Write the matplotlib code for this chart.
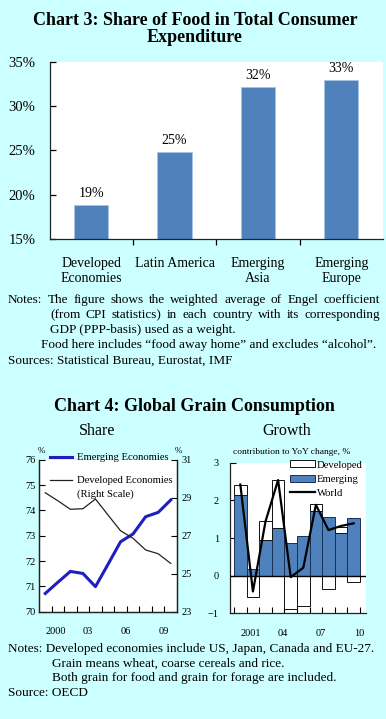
import matplotlib
matplotlib.use('Agg')
import matplotlib.pyplot as plt
from matplotlib.lines import Line2D
from matplotlib.patches import Rectangle

plt.rcParams['font.family'] = ['Liberation Serif', 'DejaVu Serif']

W, H = 386, 719
BG = '#ccffff'
BAR_BLUE = '#4f81bd'
LINE_BLUE = '#1f1fbf'

# Chart 3: share of food in consumer expenditure (%)
food_regions = ['Developed\nEconomies', 'Latin America', 'Emerging\nAsia', 'Emerging\nEurope']
food_share = [18.8, 24.8, 32.2, 32.9]

# Chart 4 left: share of global grain consumption (%)
share_years = list(range(2000, 2011))
emerging_share = [70.72, 71.16, 71.59, 71.51, 70.99, 71.87, 72.76, 73.07, 73.75, 73.92, 74.41]
developed_share = [29.26, 28.84, 28.39, 28.42, 28.93, 28.09, 27.26, 26.86, 26.25, 26.05, 25.54]
share_tick_years = [2000, 2003, 2006, 2009]

# Chart 4 right: contribution to YoY change (%)
growth_years = list(range(2001, 2011))
emerging_contrib = [2.14, 0.17, 0.95, 1.27, 0.86, 1.05, 1.72, 1.56, 1.13, 1.54]
developed_contrib = [0.28, -0.58, 0.49, 1.27, -0.89, -0.81, 0.17, -0.35, 0.15, -0.16]
world_growth = [2.42, -0.42, 1.44, 2.54, -0.04, 0.21, 1.88, 1.21, 1.32, 1.39]
growth_tick_years = [2001, 2004, 2007, 2010]


def fx(x):
    return x / W


def fy(y):
    return 1 - y / H


def box(x0, y0, x1, y1):
    return [fx(x0), fy(y1), (x1 - x0) / W, (y1 - y0) / H]


def year_label(y, first):
    return str(y) if first else f'{y % 100:02d}'


def justify(fig, text, x0, x1, y, size):
    # spread the words of one line over [x0, x1], like a justified paragraph
    words = text.split()
    renderer = fig.canvas.get_renderer()
    items = [fig.text(0, fy(y), w, fontsize=size, va='baseline') for w in words]
    widths = [t.get_window_extent(renderer).width for t in items]
    gap = (x1 - x0 - sum(widths)) / (len(words) - 1)
    x = x0
    for t, w in zip(items, widths):
        t.set_x(fx(x))
        x += w + gap


def style_spines(ax, show):
    for side, sp in ax.spines.items():
        sp.set_visible(side in show)
        sp.set_color('#222222')
        sp.set_linewidth(0.9)


fig = plt.figure(figsize=(W / 100, H / 100), dpi=100, facecolor=BG)

# ---------------- Chart 3 ----------------
fig.text(fx(195), fy(25), 'Chart 3: Share of Food in Total Consumer',
         ha='center', va='baseline', fontsize=13, weight='bold')
fig.text(fx(195), fy(42), 'Expenditure', ha='center', va='baseline', fontsize=13, weight='bold')

ax1 = fig.add_axes(box(49.5, 61.7, 383, 239))
x = range(len(food_regions))
bars = ax1.bar(x, food_share, width=0.41, color=BAR_BLUE, edgecolor='#a9c4e6', linewidth=0.6)
for b, v in zip(bars, food_share):
    ax1.annotate(f'{v:.0f}%', (b.get_x() + b.get_width() / 2, v), xytext=(0, 3.5),
                 textcoords='offset points', ha='center', va='bottom', fontsize=10)
ax1.set_ylim(15, 35)
ax1.set_xlim(-0.5, len(food_regions) - 0.5)
ax1.set_yticks(range(15, 36, 5), [f'{v}%' for v in range(15, 36, 5)], fontsize=10.5)
ax1.set_xticks(list(x), food_regions, fontsize=10)
ax1.set_xticks([0.5, 1.5, 2.5], minor=True)
ax1.tick_params(axis='x', which='major', length=0, pad=13)
ax1.tick_params(axis='x', which='minor', length=4, direction='out', width=0.9)
ax1.tick_params(axis='y', length=4, direction='in', width=0.9, pad=10)
style_spines(ax1, ('left', 'bottom'))

notes1 = 9.5
justify(fig, 'Notes: The figure shows the weighted average of Engel coefficient', 8, 380, 302.5, notes1)
justify(fig, '(from CPI statistics) in each country with its corresponding', 50, 380, 318.3, notes1)
fig.text(fx(50), fy(333.3), 'GDP (PPP-basis) used as a weight.', fontsize=notes1, va='baseline')
fig.text(fx(41), fy(348.3), 'Food here includes \u201cfood away home\u201d and excludes \u201calcohol\u201d.',
         fontsize=notes1, va='baseline')
fig.text(fx(8), fy(363.3), 'Sources: Statistical Bureau, Eurostat, IMF', fontsize=notes1, va='baseline')

# ---------------- Chart 4 ----------------
fig.text(fx(194), fy(411), 'Chart 4: Global Grain Consumption',
         ha='center', va='baseline', fontsize=13, weight='bold')
fig.text(fx(97), fy(435), 'Share', ha='center', va='baseline', fontsize=11.5)
fig.text(fx(287), fy(435), 'Growth', ha='center', va='baseline', fontsize=11.5)

tick_fs = 7.5

# left panel: shares
axL = fig.add_axes(box(39, 459.7, 177, 611.7))
axL.plot(share_years, emerging_share, color=LINE_BLUE, lw=2.2)
axL.set_ylim(70, 76)
axL.set_xlim(share_years[0] - 0.5, share_years[-1] + 0.5)
axL.set_yticks(range(70, 77))
axR = axL.twinx()
axR.plot(share_years, developed_share, color='#222222', lw=0.9)
axR.set_ylim(23, 31)
axR.set_yticks(range(23, 32, 2))
for a in (axL, axR):
    style_spines(a, ('left', 'bottom', 'right'))
axL.set_xticks(share_tick_years, [year_label(y, i == 0) for i, y in enumerate(share_tick_years)])
axL.set_xticks([y + 0.5 for y in share_years[:-1]], minor=True)
for lbl in axL.get_xticklabels():
    lbl.set_ha('left')
axL.tick_params(axis='x', which='major', length=0, pad=11, labelsize=tick_fs)
axL.tick_params(axis='x', which='minor', length=4, direction='in', width=0.8)
axL.tick_params(axis='y', length=4, direction='in', width=0.8, pad=2.5, labelsize=tick_fs)
axR.tick_params(axis='y', length=4, direction='in', width=0.8, pad=3.5, labelsize=tick_fs)

fig.text(fx(41.5), fy(453), '%', ha='center', va='baseline', fontsize=6.5)
fig.text(fx(178.5), fy(453), '%', ha='center', va='baseline', fontsize=6.5)

fig.add_artist(Line2D([fx(50), fx(72)], [fy(456.7)] * 2, color=LINE_BLUE, lw=2.2))
fig.text(fx(76.7), fy(460), 'Emerging Economies', fontsize=7.7, va='baseline')
fig.add_artist(Line2D([fx(50), fx(72)], [fy(480)] * 2, color='#222222', lw=0.9))
fig.text(fx(76.7), fy(483.3), 'Developed Economies', fontsize=7.7, va='baseline')
fig.text(fx(76.7), fy(496.7), '(Right Scale)', fontsize=7.7, va='baseline')

# right panel: growth contributions
axG = fig.add_axes(box(230, 462.7, 365.5, 613.3))
axG.bar(growth_years, emerging_contrib, width=1.0, color=BAR_BLUE,
        edgecolor='#1a2f55', linewidth=0.7, zorder=2)
dev_bottom = [e if d > 0 else 0 for e, d in zip(emerging_contrib, developed_contrib)]
axG.bar(growth_years, developed_contrib, bottom=dev_bottom, width=1.0, color='white',
        edgecolor='#111111', linewidth=0.7, zorder=2)
axG.plot(growth_years, world_growth, color='black', lw=1.6, zorder=4)
axG.axhline(0, color='black', lw=1.0, zorder=3)
axG.set_ylim(-1, 3)
axG.set_xlim(2000.18, 2010.94)
axG.set_yticks(range(-1, 4))
axG.set_xticks(growth_tick_years, [year_label(y, i == 0) for i, y in enumerate(growth_tick_years)])
axG.set_xticks([y - 0.5 for y in growth_years] + [growth_years[-1] + 0.5], minor=True)
for lbl in axG.get_xticklabels():
    lbl.set_ha('left')
axG.tick_params(axis='x', which='major', length=0, pad=11, labelsize=tick_fs)
axG.tick_params(axis='x', which='minor', length=4, direction='in', width=0.8)
axG.tick_params(axis='y', length=4, direction='in', width=0.8, pad=8, labelsize=tick_fs)
style_spines(axG, ('left', 'bottom'))

fig.text(fx(292), fy(454), 'contribution to YoY change, %', ha='center', va='baseline', fontsize=6.8)

fig.add_artist(Rectangle((fx(290), fy(467)), fx(315) - fx(290), fy(460.5) - fy(467),
                         facecolor='white', edgecolor='#111111', lw=0.7))
fig.add_artist(Rectangle((fx(290), fy(482)), fx(315) - fx(290), fy(475.5) - fy(482),
                         facecolor=BAR_BLUE, edgecolor='#1a2f55', lw=0.7))
fig.add_artist(Line2D([fx(290), fx(315)], [fy(491.5)] * 2, color='black', lw=1.6))
fig.text(fx(317), fy(467.7), 'Developed', fontsize=7.7, va='baseline')
fig.text(fx(317), fy(482), 'Emerging', fontsize=7.7, va='baseline')
fig.text(fx(317), fy(495.7), 'World', fontsize=7.7, va='baseline')

notes2 = 9.5
fig.text(fx(8), fy(651.7), 'Notes: Developed economies include US, Japan, Canada and EU-27.',
         fontsize=notes2, va='baseline')
fig.text(fx(52), fy(666.5), 'Grain means wheat, coarse cereals and rice.', fontsize=notes2, va='baseline')
fig.text(fx(52), fy(681.3), 'Both grain for food and grain for forage are included.',
         fontsize=notes2, va='baseline')
fig.text(fx(8), fy(696), 'Source: OECD', fontsize=notes2, va='baseline')

fig.savefig('out.png', dpi=100, facecolor=BG)
